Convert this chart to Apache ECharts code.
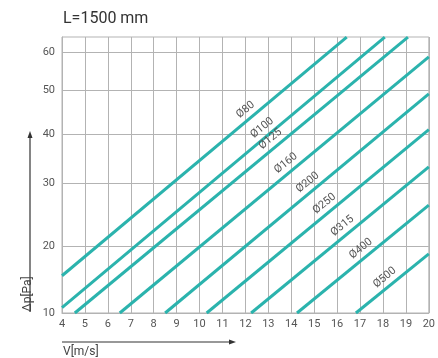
<!DOCTYPE html>
<html>
<head>
<meta charset="utf-8">
<script src="https://cdn.jsdelivr.net/npm/echarts@6/dist/echarts.min.js"></script>
<style>
  html, body { margin: 0; padding: 0; background: #fff; }
  #chart { width: 438px; height: 358px; }
</style>
</head>
<body>
<div id="chart"></div>
<script>
// Duct pressure loss for a 1500 mm length, one line per nominal diameter.
const diameters = ['Ø80', 'Ø100', 'Ø125', 'Ø160', 'Ø200', 'Ø250', 'Ø315', 'Ø400', 'Ø500'];
// Each line runs from (startV, startDp) to (endV, endDp): V in m/s, Δp in Pa.
const startV  = [4.00, 4.00, 4.56, 6.52, 8.50, 10.31, 12.25, 14.25, 16.82];
const startDp = [15.6, 10.8, 10.0, 10.0, 10.0, 10.0, 10.0, 10.0, 10.0];
const endV    = [16.42, 18.08, 19.09, 20.0, 20.0, 20.0, 20.0, 20.0, 20.0];
const endDp   = [64.0, 64.0, 64.0, 58.8, 49.2, 41.0, 33.4, 26.6, 18.9];
// Velocity at which each diameter tag sits along its line.
const labelV  = [12.01, 12.73, 13.09, 13.77, 14.72, 15.45, 16.23, 17.04, 18.08];

const velocityMin = 4, velocityMax = 20;
const pressureTicks = [10, 20, 30, 40, 50, 60];

// The pressure axis of this nomogram is not linear: each tick value has its own
// place on the axis (axis units run from 0 at the bottom to 276 at the top).
const pressureTickPlace = [0, 66.5, 129.3, 179, 222.7, 260.7];
const pressureAxisMax = 276;

function pressureToAxis(dp) {
  const t = pressureTicks, p = pressureTickPlace;
  let i = 0;
  while (i < t.length - 2 && dp > t[i + 1]) i++;
  return p[i] + (dp - t[i]) * (p[i + 1] - p[i]) / (t[i + 1] - t[i]);
}

function axisToPressureLabel(v) {
  let best = 0;
  for (let i = 1; i < pressureTickPlace.length; i++) {
    if (Math.abs(pressureTickPlace[i] - v) < Math.abs(pressureTickPlace[best] - v)) best = i;
  }
  return String(pressureTicks[best]);
}

const teal = '#2bb3ad';
const gridGray = '#b3b3b3';
const textGray = '#555';
const tagLift = 12;

const series = diameters.map(function (name, i) {
  const u1 = pressureToAxis(startDp[i]);
  const u2 = pressureToAxis(endDp[i]);
  const uTag = u1 + (labelV[i] - startV[i]) * (u2 - u1) / (endV[i] - startV[i]) + tagLift;
  return {
    name: name,
    type: 'line',
    data: [[startV[i], u1], [endV[i], u2]],
    symbol: 'none',
    silent: true,
    lineStyle: { color: teal, width: 3 },
    markPoint: {
      symbol: 'circle',
      symbolSize: 0,
      silent: true,
      data: [{ coord: [labelV[i], uTag] }],
      label: {
        show: true,
        position: 'inside',
        formatter: name,
        rotate: 39,
        color: textGray,
        fontSize: 11,
        fontFamily: 'Roboto'
      }
    }
  };
});

const chart = echarts.init(document.getElementById('chart'), null, { renderer: 'canvas' });
chart.setOption({
  animation: false,
  backgroundColor: '#fff',
  textStyle: { fontFamily: 'Roboto' },
  grid: {
    left: 62, right: 7, top: 37, bottom: 45,
    show: true, borderColor: gridGray, borderWidth: 1
  },
  xAxis: {
    type: 'value',
    min: velocityMin,
    max: velocityMax,
    interval: 1,
    axisLine: { show: true, lineStyle: { color: gridGray } },
    axisTick: { show: false },
    axisLabel: { color: textGray, fontSize: 11, margin: 6 },
    splitLine: { show: true, lineStyle: { color: gridGray, width: 1 } }
  },
  yAxis: {
    type: 'value',
    min: 0,
    max: pressureAxisMax,
    axisLine: { show: true, lineStyle: { color: gridGray } },
    axisTick: { show: false, customValues: pressureTickPlace },
    axisLabel: {
      color: textGray, fontSize: 11, margin: 7,
      customValues: pressureTickPlace,
      formatter: axisToPressureLabel
    },
    splitLine: { show: true, lineStyle: { color: gridGray, width: 1 } }
  },
  graphic: [
    {
      type: 'text', left: 63, top: 11,
      style: { text: 'L=1500 mm', fontSize: 16, fontFamily: 'Roboto', fill: '#333' }
    },
    {
      type: 'line',
      shape: { x1: 30, y1: 312, x2: 30, y2: 136 },
      style: { stroke: '#333', lineWidth: 1.2 }
    },
    {
      type: 'polygon',
      shape: { points: [[30, 131], [27.5, 138], [32.5, 138]] },
      style: { fill: '#333' }
    },
    {
      type: 'text', x: 28, y: 294, rotation: Math.PI / 2,
      style: {
        text: 'Δp[Pa]', fontSize: 12, fontFamily: 'Roboto', fill: '#444',
        align: 'center', verticalAlign: 'middle'
      }
    },
    {
      type: 'line',
      shape: { x1: 62, y1: 342, x2: 231, y2: 342 },
      style: { stroke: '#333', lineWidth: 1.2 }
    },
    {
      type: 'polygon',
      shape: { points: [[236, 342], [229, 339.5], [229, 344.5]] },
      style: { fill: '#333' }
    },
    {
      type: 'text', x: 63, y: 352,
      style: {
        text: 'V[m/s]', fontSize: 12, fontFamily: 'Roboto', fill: '#444',
        verticalAlign: 'middle'
      }
    }
  ],
  series: series
});
</script>
</body>
</html>
